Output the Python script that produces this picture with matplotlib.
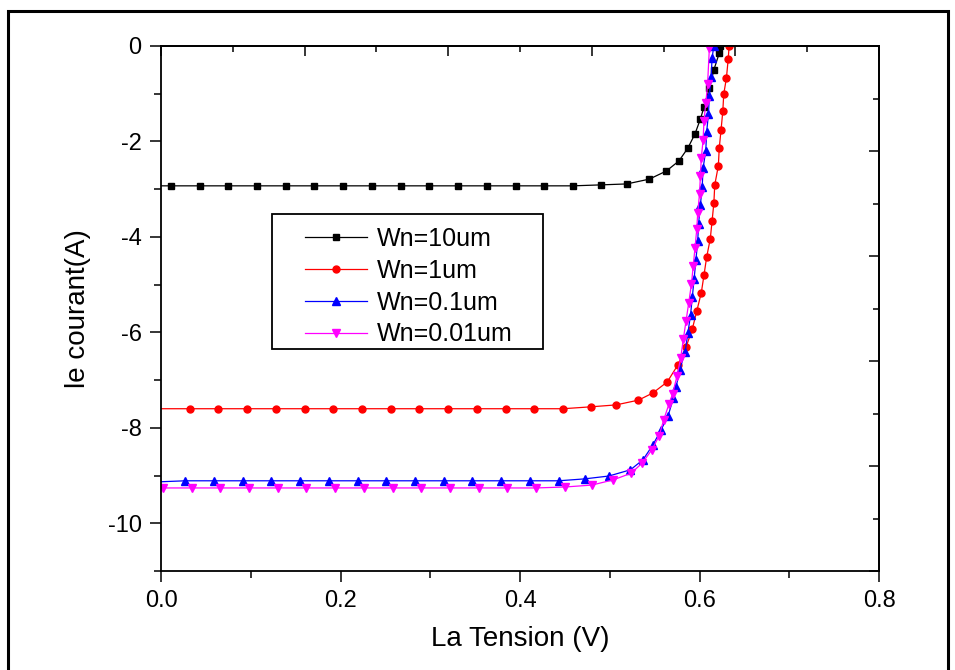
import matplotlib
matplotlib.use("Agg")
import matplotlib.pyplot as plt
from matplotlib.patches import Rectangle
from matplotlib.ticker import MultipleLocator, FormatStrFormatter
import numpy as np

plt.rcParams['font.family'] = ['Liberation Sans', 'DejaVu Sans']
plt.rcParams['axes.unicode_minus'] = False

# Wn = 10 um
v_10 = [0.0, 0.011, 0.043, 0.075, 0.107, 0.139, 0.171, 0.203, 0.235, 0.267, 0.299,
        0.331, 0.363, 0.395, 0.427, 0.459, 0.490, 0.519, 0.544, 0.563, 0.577, 0.587,
        0.595, 0.601, 0.605, 0.611, 0.616, 0.622, 0.623]
i_10 = [-2.93, -2.93, -2.93, -2.93, -2.93, -2.93, -2.93, -2.93, -2.93, -2.93, -2.93,
        -2.93, -2.93, -2.93, -2.93, -2.93, -2.91, -2.89, -2.79, -2.62, -2.41, -2.14,
        -1.84, -1.53, -1.28, -0.88, -0.50, -0.15, 0.0]

# Wn = 1 um
v_1 = [0.0, 0.032, 0.064, 0.096, 0.128, 0.160, 0.192, 0.224, 0.256, 0.288, 0.320,
       0.352, 0.384, 0.416, 0.448, 0.479, 0.507, 0.532, 0.548, 0.564, 0.576, 0.585,
       0.592, 0.597, 0.602, 0.605, 0.608, 0.612, 0.614, 0.616, 0.617, 0.621, 0.622,
       0.624, 0.626, 0.627, 0.630, 0.632, 0.633]
i_1 = [-7.60, -7.60, -7.60, -7.60, -7.60, -7.60, -7.60, -7.60, -7.60, -7.60, -7.60,
       -7.60, -7.60, -7.60, -7.60, -7.56, -7.52, -7.42, -7.27, -7.04, -6.68, -6.31,
       -5.93, -5.55, -5.17, -4.80, -4.42, -4.04, -3.67, -3.29, -2.91, -2.51, -2.14,
       -1.76, -1.36, -1.01, -0.67, -0.27, 0.0]

# Wn = 0.1 um
v_01 = [0.0, 0.027, 0.059, 0.091, 0.123, 0.155, 0.187, 0.219, 0.251, 0.283, 0.315,
        0.347, 0.379, 0.411, 0.443, 0.472, 0.499, 0.523, 0.537, 0.548, 0.557, 0.565,
        0.571, 0.574, 0.578, 0.584, 0.587, 0.590, 0.592, 0.594, 0.596, 0.598, 0.599,
        0.601, 0.603, 0.604, 0.607, 0.608, 0.610, 0.611, 0.613, 0.614, 0.616]
i_01 = [-9.13, -9.11, -9.11, -9.11, -9.11, -9.11, -9.11, -9.11, -9.11, -9.11, -9.11,
        -9.11, -9.11, -9.11, -9.11, -9.07, -9.01, -8.88, -8.67, -8.36, -8.05, -7.75,
        -7.37, -7.14, -6.78, -6.41, -6.02, -5.64, -5.26, -4.88, -4.48, -4.09, -3.72,
        -3.33, -2.95, -2.56, -2.19, -1.80, -1.42, -1.04, -0.65, -0.25, 0.0]

# Wn = 0.01 um
v_001 = [0.0, 0.002, 0.034, 0.066, 0.098, 0.130, 0.162, 0.194, 0.226, 0.258, 0.290,
         0.322, 0.354, 0.386, 0.418, 0.450, 0.480, 0.504, 0.524, 0.536, 0.547, 0.555,
         0.560, 0.566, 0.570, 0.575, 0.579, 0.582, 0.585, 0.588, 0.591, 0.593, 0.595,
         0.597, 0.598, 0.600, 0.601, 0.602, 0.604, 0.605, 0.607, 0.609, 0.611]
i_001 = [-9.26, -9.26, -9.26, -9.26, -9.26, -9.26, -9.26, -9.26, -9.26, -9.26, -9.26,
         -9.26, -9.26, -9.26, -9.26, -9.24, -9.20, -9.09, -8.95, -8.74, -8.46, -8.17,
         -7.84, -7.50, -7.29, -6.91, -6.54, -6.14, -5.76, -5.38, -4.99, -4.61, -4.23,
         -3.83, -3.50, -3.10, -2.73, -2.35, -1.97, -1.57, -1.20, -0.80, -0.04]

labels = ['Wn=10um', 'Wn=1um', 'Wn=0.1um', 'Wn=0.01um']

fig = plt.figure(figsize=(9.55, 6.7), dpi=100)
ax = fig.add_axes([161/955, 1-571/670, 718/955, 525/670])

# outer frame
fig.patches.append(Rectangle((8/955, -0.05), 940/955, 1.05-11/670, transform=fig.transFigure,
                             fill=False, edgecolor='black', linewidth=2.2))

ax.plot(v_10, i_10, color='black', lw=0.9, marker='s', ms=5, markevery=slice(1, None), label=labels[0])
ax.plot(v_1, i_1, color='red', lw=0.9, marker='o', ms=5, markevery=slice(1, None), label=labels[1])
ax.plot(v_01, i_01, color='blue', lw=0.9, marker='^', ms=5.5, markevery=slice(1, None), label=labels[2])
ax.plot(v_001, i_001, color='magenta', lw=0.9, marker='v', ms=5.5, markevery=slice(1, None), label=labels[3])

ax.set_xlim(0, 0.8)
ax.set_ylim(-11, 0)
ax.xaxis.set_major_locator(MultipleLocator(0.2))
ax.xaxis.set_minor_locator(MultipleLocator(0.1))
ax.xaxis.set_major_formatter(FormatStrFormatter('%.1f'))
ax.yaxis.set_major_locator(MultipleLocator(2))
ax.yaxis.set_minor_locator(MultipleLocator(1))
ax.tick_params(which='major', direction='out', length=8, width=1.1, labelsize=17, pad=6, top=False, right=False)
ax.tick_params(which='minor', direction='out', length=5, width=1.1, top=False, right=False)
for s in ax.spines.values():
    s.set_linewidth(1.3)

top = ax.secondary_xaxis('top')
top.set_xticks(np.linspace(0, 0.8, 6))
top.set_xticks(np.linspace(0.08, 0.72, 5), minor=True)
top.tick_params(which='major', direction='in', length=7, width=1.1, labeltop=False)
top.tick_params(which='minor', direction='in', length=4, width=1.1)
top.spines['top'].set_linewidth(1.3)

right = ax.secondary_yaxis('right')
right.set_yticks(np.linspace(-11, 0, 6))
right.set_yticks(np.linspace(-9.9, -1.1, 5), minor=True)
right.tick_params(which='major', direction='in', length=7, width=1.1, labelright=False)
right.tick_params(which='minor', direction='in', length=4, width=1.1)
right.spines['right'].set_linewidth(1.3)

ax.set_xlabel('La Tension (V)', fontsize=20, labelpad=10)
ax.set_ylabel('le courant(A)', fontsize=20, labelpad=12)

# legend entries without their own frame, box drawn separately
leg = ax.legend(loc='upper left', bbox_to_anchor=(0.1876, 0.6724), borderaxespad=0,
                fontsize=18, frameon=False, handlelength=2.5,
                labelspacing=0.31, handletextpad=0.36, borderpad=0.37)
ax.add_patch(Rectangle((0.1546, 0.4229), 0.3774, 0.2571, transform=ax.transAxes,
                       fill=False, edgecolor='black', linewidth=1.3, zorder=5))

fig.savefig('out.png', dpi=100)
